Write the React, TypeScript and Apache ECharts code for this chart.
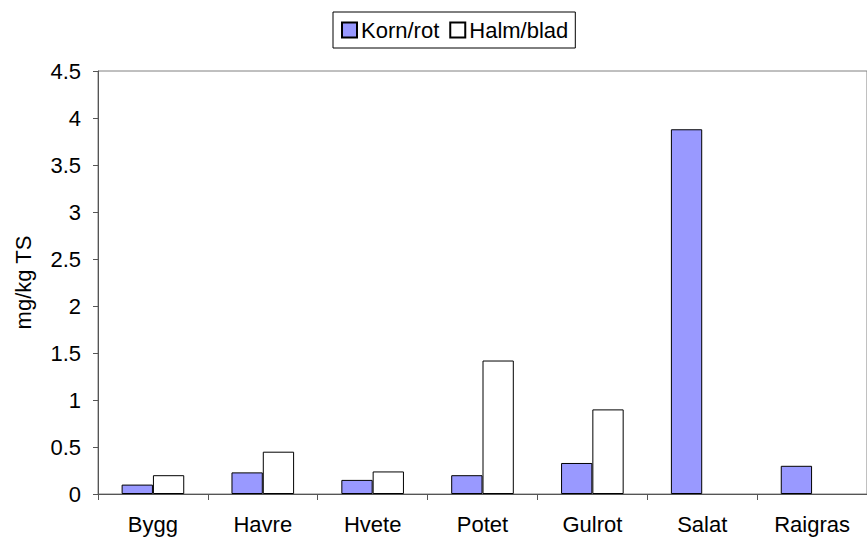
import React, { useEffect, useRef } from "react";
import * as echarts from "echarts";

const categories = ["Bygg", "Havre", "Hvete", "Potet", "Gulrot", "Salat", "Raigras"];
const kornRot = [0.1, 0.23, 0.15, 0.2, 0.33, 3.88, 0.3];
const halmBlad: (number | null)[] = [0.2, 0.45, 0.24, 1.42, 0.9, null, null];
const seriesNames = ["Korn/rot", "Halm/blad"];
const yName = "mg/kg TS";

const FONT = "Liberation Sans, Arial, sans-serif";

export default function App() {
  const ref = useRef<HTMLDivElement>(null);
  useEffect(() => {
    if (!ref.current) return;
    const chart = echarts.init(ref.current, null, { renderer: "svg" });
    chart.setOption({
      animation: false,
      backgroundColor: "#ffffff",
      textStyle: { fontFamily: FONT },
      legend: {
        left: 333,
        top: 12,
        padding: [7, 7, 7, 8],
        itemGap: 10,
        itemWidth: 15,
        itemHeight: 15,
        icon: "rect",
        borderColor: "#000",
        borderWidth: 1,
        textStyle: { fontFamily: FONT, fontSize: 22, color: "#000", padding: [0, 0, 0, -1] },
        data: seriesNames,
      },
      grid: {
        left: 98,
        top: 71,
        width: 777,
        height: 423,
        show: true,
        borderColor: "#808080",
        borderWidth: 1,
        containLabel: false,
      },
      xAxis: {
        type: "category",
        data: categories,
        axisLine: { lineStyle: { color: "#555", width: 1 } },
        axisTick: { show: true, length: 6, lineStyle: { color: "#555" } },
        axisLabel: { fontFamily: FONT, fontSize: 22, color: "#000", margin: 19 },
        splitLine: { show: false },
      },
      yAxis: {
        type: "value",
        min: 0,
        max: 4.5,
        interval: 0.5,
        name: yName,
        nameLocation: "middle",
        nameGap: 64,
        nameTextStyle: { fontFamily: FONT, fontSize: 22, color: "#000" },
        axisLine: { show: true, lineStyle: { color: "#555", width: 1 } },
        axisTick: { show: true, length: 5, lineStyle: { color: "#555" } },
        axisLabel: { fontFamily: FONT, fontSize: 22, color: "#000", margin: 17 },
        splitLine: { show: false },
      },
      series: [
        {
          name: seriesNames[0],
          type: "bar",
          data: kornRot,
          barGap: "0%",
          barCategoryGap: "43%",
          itemStyle: { color: "#9999FF", borderColor: "#000", borderWidth: 1 },
        },
        {
          name: seriesNames[1],
          type: "bar",
          data: halmBlad,
          barGap: "0%",
          barCategoryGap: "43%",
          itemStyle: { color: "#FFFFFF", borderColor: "#000", borderWidth: 1 },
        },
      ],
    });
    return () => chart.dispose();
  }, []);
  return (
    <div
      ref={ref}
      style={{ position: "fixed", left: 0, top: 0, width: 867, height: 537, overflow: "hidden" }}
    />
  );
}
